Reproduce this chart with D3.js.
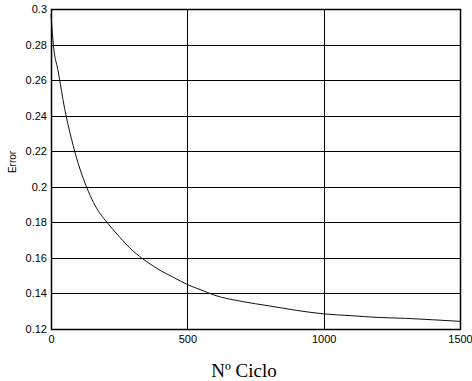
<!DOCTYPE html>
<html>
<head>
<meta charset="utf-8">
<script src="https://cdn.jsdelivr.net/npm/d3@7"></script>
<style>
  body { margin: 0; background: #fff; }
  svg { display: block; }
</style>
</head>
<body>
<svg id="chart" width="472" height="381"></svg>
<script>
// iteration numbers and error values
const cycles = [0, 10, 25, 50, 75, 100, 125, 150, 175, 200, 250, 300, 350, 400, 450, 500,
  550, 600, 700, 800, 900, 1000, 1100, 1200, 1300, 1400, 1500];
const errors = [0.297, 0.278, 0.266, 0.244, 0.227, 0.213, 0.202, 0.193, 0.186, 0.181, 0.172,
  0.164, 0.158, 0.153, 0.149, 0.145, 0.142, 0.139, 0.1355, 0.133, 0.1305, 0.1285, 0.1275,
  0.1265, 0.126, 0.1252, 0.1243];
const xTicks = [0, 500, 1000, 1500];
const yTicks = [0.12, 0.14, 0.16, 0.18, 0.2, 0.22, 0.24, 0.26, 0.28, 0.3];

const svg = d3.select('#chart');
const margin = { top: 9, right: 12, bottom: 52, left: 51 };
const width = 472 - margin.left - margin.right;
const height = 381 - margin.top - margin.bottom;

const g = svg.append('g')
  .attr('transform', `translate(${margin.left},${margin.top})`);

const x = d3.scaleLinear().domain([0, 1500]).range([0, width]);
const y = d3.scaleLinear().domain([0.12, 0.3]).range([height, 0]);

// grid
g.append('g')
  .selectAll('line')
  .data(yTicks)
  .enter()
  .append('line')
  .attr('x1', 0).attr('x2', width)
  .attr('y1', d => Math.round(y(d)) + 0.5)
  .attr('y2', d => Math.round(y(d)) + 0.5)
  .attr('stroke', '#000')
  .attr('stroke-width', 1);

g.append('g')
  .selectAll('line')
  .data(xTicks)
  .enter()
  .append('line')
  .attr('y1', 0).attr('y2', height)
  .attr('x1', d => Math.round(x(d)) + 0.5)
  .attr('x2', d => Math.round(x(d)) + 0.5)
  .attr('stroke', '#000')
  .attr('stroke-width', 1);

// frame
g.append('rect')
  .attr('x', 0.5).attr('y', 0.5)
  .attr('width', Math.round(width)).attr('height', Math.round(height))
  .attr('fill', 'none')
  .attr('stroke', '#000')
  .attr('stroke-width', 1.5);

// axes (labels only, grid draws the lines)
const yAxis = g.append('g')
  .attr('color', '#000')
  .call(d3.axisLeft(y).tickValues(yTicks).tickSize(0).tickPadding(4).tickFormat(d3.format('~g')));
yAxis.select('.domain').remove();
yAxis.selectAll('text')
  .style('font-family', 'Liberation Sans, Arial, sans-serif')
  .style('font-size', '11px')
  .style('fill', '#000');

const xAxis = g.append('g')
  .attr('color', '#000')
  .attr('transform', `translate(0,${height})`)
  .call(d3.axisBottom(x).tickValues(xTicks).tickSize(0).tickPadding(6).tickFormat(d3.format('d')));
xAxis.select('.domain').remove();
xAxis.selectAll('text')
  .style('font-family', 'Liberation Sans, Arial, sans-serif')
  .style('font-size', '11px')
  .style('fill', '#000');

// curve
const pts = cycles.map((c, i) => [c, errors[i]]);
g.append('path')
  .datum(pts)
  .attr('fill', 'none')
  .attr('stroke', '#111')
  .attr('stroke-width', 1)
  .attr('d', d3.line().x(d => x(d[0])).y(d => y(d[1])).curve(d3.curveMonotoneX));

// axis titles
svg.append('text')
  .attr('transform', 'translate(16,162) rotate(-90)')
  .attr('text-anchor', 'middle')
  .style('font-family', 'Liberation Sans, Arial, sans-serif')
  .style('font-size', '10px')
  .text('Error');

svg.append('text')
  .attr('x', 244)
  .attr('y', 377)
  .attr('text-anchor', 'middle')
  .style('font-family', 'Liberation Serif, Times New Roman, serif')
  .style('font-size', '19px')
  .text('Nº Ciclo');
</script>
</body>
</html>
